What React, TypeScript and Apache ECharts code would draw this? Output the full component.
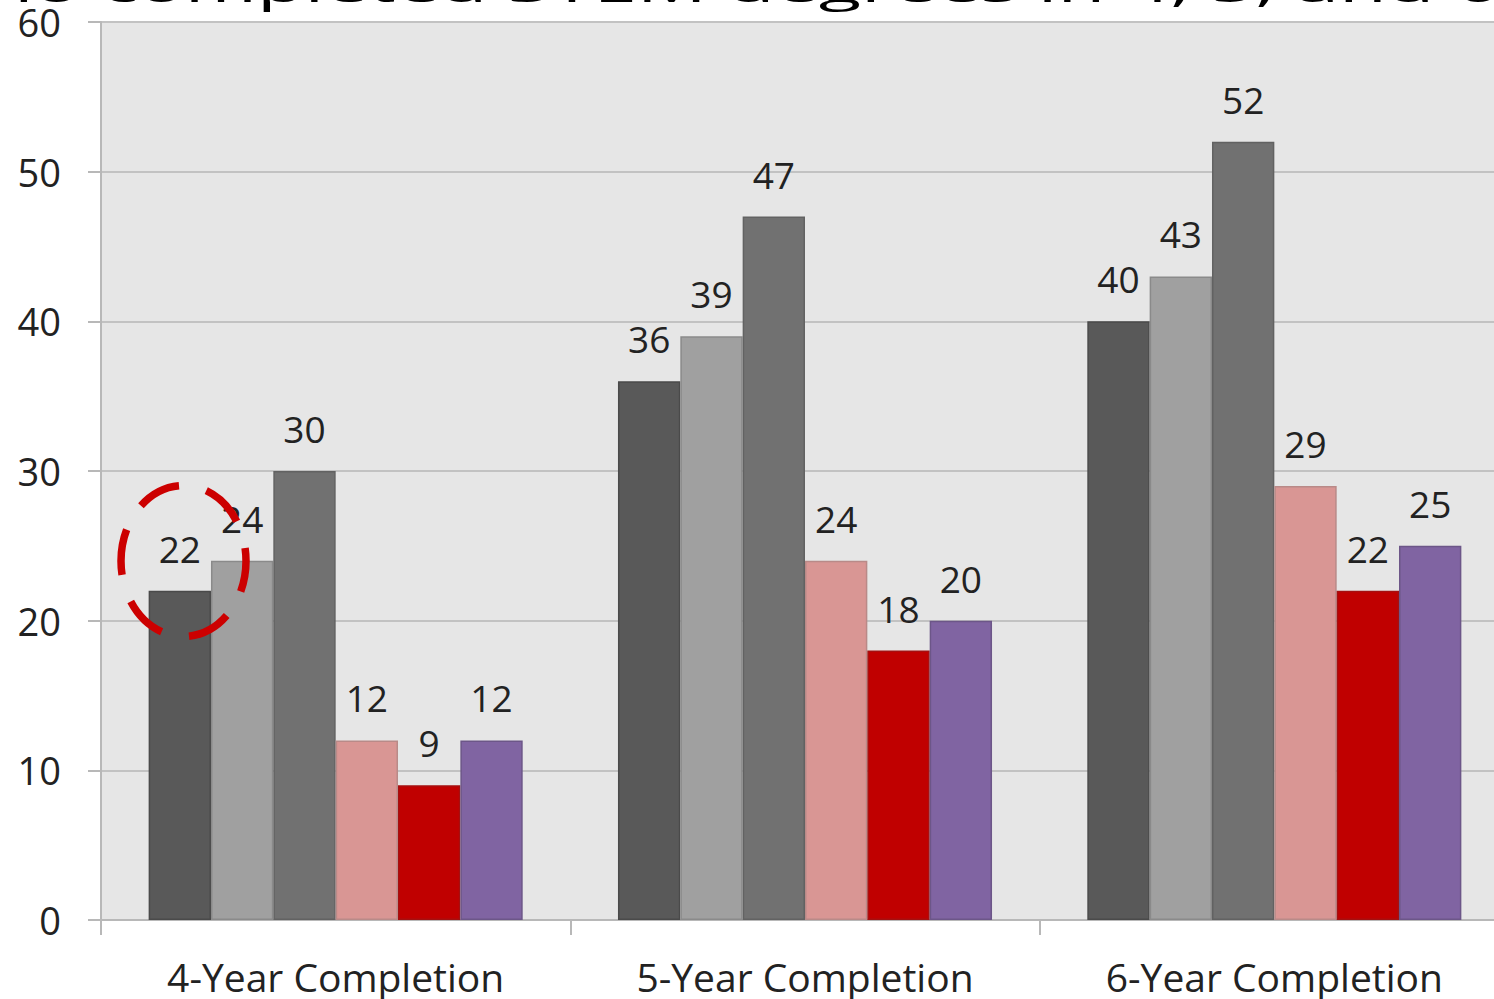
import React, { useEffect, useRef } from "react";
import * as echarts from "echarts";

// Completion categories along the x axis
const categories = ["4-Year Completion", "5-Year Completion", "6-Year Completion"];

// Percentages per group, one array per bar colour
const darkGray = [22, 36, 40];
const lightGray = [24, 39, 43];
const midGray = [30, 47, 52];
const pink = [12, 24, 29];
const red = [9, 18, 22];
const purple = [12, 20, 25];

// Value axis ticks
const yMin = 0;
const yMax = 60;
const yStep = 10;

const titleText = "who completed STEM degrees in 4, 5, and 6 years";

const FONT = "Open Sans";

export default function App() {
  const ref = useRef<HTMLDivElement>(null);

  useEffect(() => {
    if (!ref.current) return;
    const chart = echarts.init(ref.current, undefined, { renderer: "svg" });

    const seriesDefs = [
      { name: "Series 1", data: darkGray, color: "#595959", border: "#4a4a4a" },
      { name: "Series 2", data: lightGray, color: "#a0a0a0", border: "#8a8a8a" },
      { name: "Series 3", data: midGray, color: "#717171", border: "#626262" },
      { name: "Series 4", data: pink, color: "#d99694", border: "#b98a88" },
      { name: "Series 5", data: red, color: "#c00000", border: "#a51010" },
      { name: "Series 6", data: purple, color: "#8064a2", border: "#6c5688" },
    ];

    chart.setOption({
      animation: false,
      backgroundColor: "#ffffff",
      grid: {
        left: 101,
        right: -15,
        top: 22,
        bottom: 79,
        show: true,
        backgroundColor: "#e6e6e6",
        borderWidth: 0,
        outerBoundsMode: "none",
        containLabel: false,
      },
      xAxis: {
        type: "category",
        data: categories,
        boundaryGap: true,
        axisLine: { show: true, lineStyle: { color: "#b8b8b8", width: 2 } },
        axisTick: {
          show: true,
          interval: 0,
          alignWithLabel: false,
          length: 15,
          lineStyle: { color: "#b8b8b8", width: 2 },
        },
        axisLabel: {
          interval: 0,
          margin: 36,
          fontSize: 39,
          lineHeight: 40,
          fontFamily: FONT,
          color: "#222222",
        },
        splitLine: { show: false },
      },
      yAxis: {
        type: "value",
        min: yMin,
        max: yMax,
        interval: yStep,
        axisLine: { show: true, lineStyle: { color: "#b8b8b8", width: 2 } },
        axisTick: { show: true, length: 13, lineStyle: { color: "#b8b8b8", width: 2 } },
        axisLabel: {
          margin: 40,
          fontSize: 38,
          lineHeight: 38,
          fontFamily: FONT,
          color: "#222222",
        },
        splitLine: { show: true, lineStyle: { color: "#c2c2c2", width: 2 } },
      },
      series: seriesDefs.map((s) => ({
        type: "bar",
        name: s.name,
        data: s.data,
        barGap: "0%",
        barCategoryGap: "20.3%",
        itemStyle: { color: s.color, borderColor: s.border, borderWidth: 1.5 },
        label: {
          show: true,
          position: "top",
          distance: 24,
          fontSize: 37,
          fontFamily: FONT,
          color: "#222222",
        },
      })),
      graphic: [
        {
          type: "text",
          x: -75,
          y: -14,
          scaleX: 1,
          scaleY: 0.52,
          z: 10,
          style: {
            text: titleText,
            fontSize: 78,
            fontFamily: FONT,
            fill: "#000000",
            verticalAlign: "middle",
          },
        },
        {
          type: "ellipse",
          z: 20,
          shape: { cx: 183.5, cy: 561, rx: 62.5, ry: 75.5 },
          style: {
            fill: "none",
            stroke: "#cc0000",
            lineWidth: 7.5,
            lineDash: [44, 28],
            lineDashOffset: 12,
          },
        },
      ],
    });

    return () => chart.dispose();
  }, []);

  return (
    <div
      ref={ref}
      style={{ position: "fixed", left: 0, top: 0, width: 1494, height: 999, background: "#ffffff" }}
    />
  );
}
